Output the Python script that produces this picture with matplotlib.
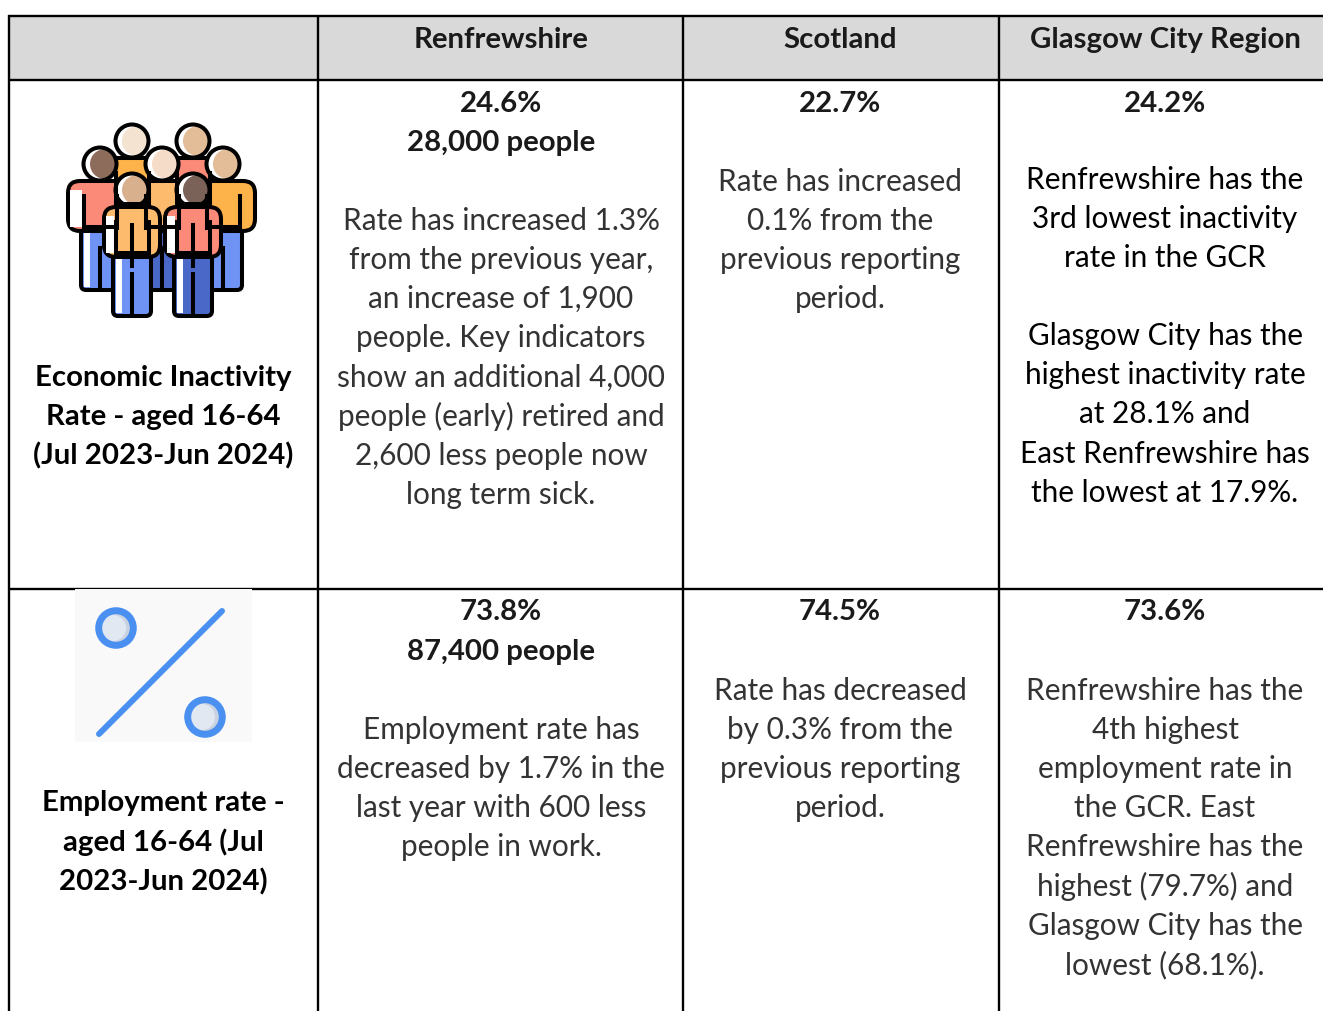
import matplotlib
matplotlib.use('Agg')
import matplotlib.pyplot as plt
from matplotlib.patches import Rectangle, Circle, FancyBboxPatch

plt.rcParams['font.family'] = ['Lato', 'DejaVu Sans']

# table text, "" is an empty line in the cell
headers = ['Renfrewshire', 'Scotland', 'Glasgow City Region']

row1_label = ['Economic Inactivity', 'Rate - aged 16-64', '(Jul 2023-Jun 2024)']
row1_renfrew_bold = ['24.6%', '28,000 people']
row1_renfrew = ['', 'Rate has increased 1.3%', 'from the previous year,', 'an increase of 1,900',
                'people. Key indicators', 'show an additional 4,000', 'people (early) retired and',
                '2,600 less people now', 'long term sick.']
row1_scot_bold = ['22.7%']
row1_scot = ['', 'Rate has increased', '0.1% from the', 'previous reporting', 'period.']
row1_gcr_bold = ['24.2%']
row1_gcr = ['Renfrewshire has the', '3rd lowest inactivity', 'rate in the GCR', '',
            'Glasgow City has the', 'highest inactivity rate', 'at 28.1% and',
            'East Renfrewshire has', 'the lowest at 17.9%.']

row2_label = ['Employment rate -', 'aged 16-64 (Jul', '2023-Jun 2024)']
row2_renfrew_bold = ['73.8%', '87,400 people']
row2_renfrew = ['', 'Employment rate has', 'decreased by 1.7% in the', 'last year with 600 less',
                'people in work.']
row2_scot_bold = ['74.5%']
row2_scot = ['', 'Rate has decreased', 'by 0.3% from the', 'previous reporting', 'period.']
row2_gcr_bold = ['73.6%']
row2_gcr = ['', 'Renfrewshire has the', '4th highest', 'employment rate in', 'the GCR. East',
            'Renfrewshire has the', 'highest (79.7%) and', 'Glasgow City has the', 'lowest (68.1%).']

FS = 21.4
FS_BOLD = 21.2
LINE = 39.15
BLACK = '#000000'
TEXT = '#333333'
NUDGE = 1.5  # Lato sits a little high compared to the reference

fig = plt.figure(figsize=(13.23, 10.12), dpi=100)
ax = fig.add_axes([0, 0, 1, 1])
ax.set_xlim(0, 1323)
ax.set_ylim(1012, 0)
ax.axis('off')


def cell(x, y, bold, normal, color=TEXT):
    """Write bold lines then normal lines, one per row, centred on x"""
    for i, s in enumerate(bold):
        ax.text(x, y + NUDGE + i * LINE, s, ha='center', va='center', fontsize=FS_BOLD,
                fontweight='bold', color='#1a1a1a' if color == TEXT else color)
    y = y + len(bold) * LINE
    for i, s in enumerate(normal):
        if s:
            ax.text(x, y + NUDGE + i * LINE, s, ha='center', va='center', fontsize=FS, color=color)


def person(cx, hy, w, shirt, legs, shade):
    lw = 2.9
    # legs
    ax.add_patch(FancyBboxPatch((cx - 19, hy + 55), 38, 71, boxstyle='round,pad=0,rounding_size=5',
                                fc=legs, ec='black', lw=lw))
    ax.add_patch(Rectangle((cx - 16, hy + 66), 6, 57, fc='white', ec='none'))
    ax.plot([cx, cx], [hy + 84, hy + 125], color='black', lw=lw)
    # shirt
    ax.add_patch(FancyBboxPatch((cx - w, hy + 17), 2 * w, 50, boxstyle='round,pad=0,rounding_size=12',
                                fc=shirt, ec='black', lw=lw))
    ax.add_patch(Rectangle((cx - w + 2, hy + 26), w - 20, 37, fc='white', ec='none'))
    ax.plot([cx - 16.5, cx - 16.5], [hy + 32, hy + 64], color='black', lw=lw)
    ax.plot([cx + 16.5, cx + 16.5], [hy + 32, hy + 64], color='black', lw=lw)
    ax.plot([cx - 16.5, cx + 16.5], [hy + 63, hy + 63], color='black', lw=lw)
    # head, shade is clipped to the head circle
    head = Circle((cx, hy), 16.5, fc='white', ec='none')
    ax.add_patch(head)
    s = Circle((cx + 5, hy), 15, fc=shade, ec='none')
    ax.add_patch(s)
    s.set_clip_path(head)
    ax.add_patch(Circle((cx, hy), 16.5, fc='none', ec='black', lw=lw))


def people_icon():
    orange = '#FDB24A'
    salmon = '#FB8A78'
    peach = '#FDBB6E'
    blue = '#6F93F5'
    dark = '#4A68C8'
    person(132, 142, 28, orange, blue, '#F5E3D2')
    person(193, 142, 28, salmon, blue, '#E3BC98')
    person(162, 165, 32, peach, dark, '#F5DCC8')
    person(100, 165, 32, salmon, blue, '#8E6C5C')
    person(223, 165, 32, orange, blue, '#E3BC98')
    person(132, 191, 28, peach, blue, '#D9B08E')
    person(193, 191, 28, salmon, dark, '#7A6258')


def percent_icon():
    ax.add_patch(Rectangle((75, 590), 177, 153, fc='#F9F9FA', ec='none', zorder=3))
    c = '#4A90F0'
    ax.plot([99, 222], [735, 612], color=c, lw=4.3, solid_capstyle='round', zorder=4)
    for x, y in [(116, 629), (205, 718)]:
        ax.add_patch(Circle((x, y), 17.3, fc='#C9D2E0', ec='none', zorder=4))
        ax.add_patch(Circle((x - 3, y), 13, fc='#E2E8F2', ec='none', zorder=4))
        ax.add_patch(Circle((x, y), 17.3, fc='none', ec=c, lw=5, zorder=4))


# header background
ax.add_patch(Rectangle((9, 17), 1314, 63.5, fc='#D9D9D9', ec='none'))

people_icon()
percent_icon()

# header text
for x, s in zip([501, 840, 1165], headers):
    ax.text(x, 38 + NUDGE, s, ha='center', va='center', fontsize=FS_BOLD, fontweight='bold', color='#1a1a1a')

# first row
cell(163, 376, row1_label, [], BLACK)
cell(501, 102, row1_renfrew_bold, row1_renfrew)
cell(840, 102, row1_scot_bold, row1_scot)
cell(1165, 102, row1_gcr_bold, [])
cell(1165, 178, [], row1_gcr, '#000000')

# second row
cell(163, 802, row2_label, [], BLACK)
cell(501, 611, row2_renfrew_bold, row2_renfrew)
cell(840, 611, row2_scot_bold, row2_scot)
cell(1165, 611, row2_gcr_bold, row2_gcr)

# grid lines
for x in [9, 318, 683, 999]:
    ax.plot([x, x], [16, 1012], color='black', lw=1.7, solid_capstyle='butt', zorder=2)
for y in [17, 80.5, 589.5]:
    ax.plot([8, 1323], [y, y], color='black', lw=1.7, solid_capstyle='butt', zorder=2)

fig.savefig('out.png', dpi=100)
